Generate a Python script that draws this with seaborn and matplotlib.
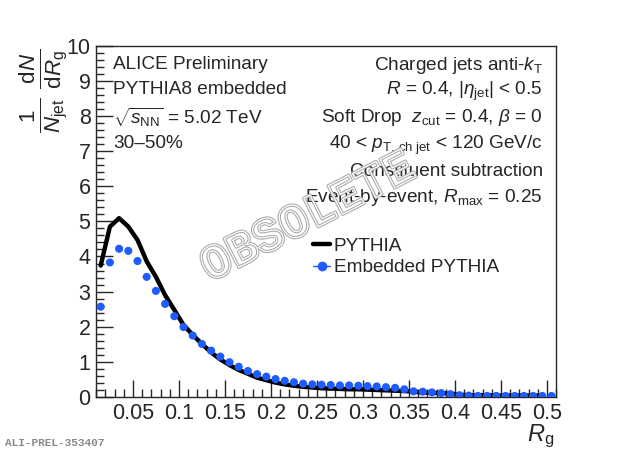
import numpy as np
import pandas as pd
import matplotlib
matplotlib.use("Agg")
import matplotlib.pyplot as plt
import matplotlib.patheffects as pe
from matplotlib.ticker import MultipleLocator, FormatStrFormatter
import seaborn as sns

# R_g bin centres
rg_bins = [0.015, 0.025, 0.035, 0.045, 0.055, 0.065, 0.075, 0.085, 0.095, 0.105,
           0.115, 0.125, 0.135, 0.145, 0.155, 0.165, 0.175, 0.185, 0.195, 0.205,
           0.215, 0.225, 0.235, 0.245, 0.255, 0.265, 0.275, 0.285, 0.295, 0.305,
           0.315, 0.325, 0.335, 0.345, 0.355, 0.365, 0.375, 0.385, 0.395, 0.405,
           0.415, 0.425, 0.435, 0.445, 0.455, 0.465, 0.475, 0.485, 0.495, 0.505]

# PYTHIA (line) - no last bin
pythia = [3.74, 4.85, 5.09, 4.85, 4.47, 3.86, 3.42, 2.90, 2.48, 2.05,
          1.77, 1.51, 1.27, 1.07, 0.91, 0.77, 0.66, 0.55, 0.48, 0.41,
          0.36, 0.32, 0.29, 0.27, 0.25, 0.24, 0.23, 0.22, 0.22, 0.21,
          0.20, 0.19, 0.18, 0.17, 0.15, 0.13, 0.12, 0.11, 0.10, 0.06,
          0.05, 0.05, 0.05, 0.04, 0.04, 0.04, 0.04, 0.04, 0.04]

# Embedded PYTHIA (markers)
embedded = [2.57, 3.83, 4.22, 4.16, 3.87, 3.42, 3.02, 2.65, 2.30, 1.99,
            1.75, 1.51, 1.32, 1.15, 0.99, 0.86, 0.74, 0.65, 0.58, 0.51,
            0.46, 0.42, 0.38, 0.36, 0.35, 0.34, 0.33, 0.33, 0.32, 0.31,
            0.30, 0.28, 0.26, 0.22, 0.16, 0.15, 0.13, 0.11, 0.08, 0.05,
            0.04, 0.03, 0.03, 0.03, 0.03, 0.03, 0.03, 0.03, 0.03, 0.03]

sns.set_style("ticks")
plt.rcParams['font.family'] = ['Liberation Sans', 'DejaVu Sans']
plt.rcParams['mathtext.fontset'] = 'custom'
plt.rcParams['mathtext.rm'] = 'Liberation Sans'
plt.rcParams['mathtext.it'] = 'Liberation Sans:italic'
plt.rcParams['mathtext.bf'] = 'Liberation Sans:bold'

df_py = pd.DataFrame({'rg': rg_bins[:len(pythia)], 'val': pythia})
df_emb = pd.DataFrame({'rg': rg_bins, 'val': embedded})

fig = plt.figure(figsize=(6.2, 4.55), dpi=100)
ax = fig.add_axes([0.155, 0.1275, 0.742, 0.772])

blue = '#1f5cff'
sns.lineplot(data=df_py, x='rg', y='val', ax=ax, color='black', lw=3.2, label='PYTHIA')
sns.scatterplot(data=df_emb, x='rg', y='val', ax=ax, color=blue, s=34,
                edgecolor='none', zorder=3)
ax.plot([], [], color=blue, marker='o', ms=6, lw=1, label='Embedded PYTHIA')

ax.set_xlim(0.01, 0.51)
ax.set_ylim(0, 10)
ax.xaxis.set_major_locator(MultipleLocator(0.05))
ax.xaxis.set_minor_locator(MultipleLocator(0.01))
ax.yaxis.set_major_locator(MultipleLocator(1))
ax.yaxis.set_minor_locator(MultipleLocator(0.2))
ax.xaxis.set_major_formatter(FormatStrFormatter('%g'))
ax.tick_params(which='both', direction='in', top=False, right=False, labelsize=15.5, width=1)
ax.tick_params(which='major', length=12, pad=4)
ax.tick_params(which='minor', length=6)
for sp in ax.spines.values():
    sp.set_linewidth(1)
ax.set_xlabel('')
ax.set_ylabel('')

fig.text(0.872, 0.04, r'$R_{\rm g}$', fontsize=17, ha='center', va='center')
fig.text(0.07, 0.80, r'$\frac{1}{N_{\rm jet}}\;\frac{{\rm d}N}{{\rm d}R_{\rm g}}$',
         fontsize=23, rotation=90, ha='center', va='center')

left_lines = ['ALICE Preliminary', 'PYTHIA8 embedded',
              r'$\sqrt{s_{\rm NN}}$ = 5.02 TeV', '30\u201350%']
left_y = [65, 90, 117, 143]
for t, y in zip(left_lines, left_y):
    fig.text(113 / 620, 1 - y / 455, t, fontsize=13.7, ha='left', va='center')

right_lines = [r'Charged jets anti-$k_{\rm T}$',
               r'$R$ = 0.4, $|\eta_{\rm jet}|$ < 0.5',
               r'Soft Drop  $z_{\rm cut}$ = 0.4, $\beta$ = 0',
               r'40 < $p_{\rm T,\,ch\;jet}$ < 120 GeV/c',
               'Constituent subtraction',
               r'Event-by-event, $R_{\rm max}$ = 0.25']
right_y = [66, 91, 117, 145, 172, 198]
for t, y in zip(right_lines, right_y):
    fig.text(543 / 620, 1 - y / 455, t, fontsize=13.7, ha='right', va='center')

ax.legend(loc='upper left', bbox_to_anchor=(0.455, 0.475), frameon=False, fontsize=13.7,
          handlelength=0.9, handletextpad=0.2, labelspacing=0.2, borderaxespad=0)

# hollow watermark: outline only, text behind stays visible
fig.text(308 / 620, 1 - 218 / 455, 'OBSOLETE', fontsize=35, rotation=27,
         ha='center', va='center', color='none', fontweight='bold',
         family='Liberation Mono', zorder=10,
         path_effects=[pe.Stroke(linewidth=2.4, foreground='#a8a8a8'),
                       pe.Stroke(linewidth=0.9, foreground='white')])

fig.text(5 / 620, 1 - 443 / 455, 'ALI-PREL-353407', fontsize=8, color='#888888',
         family='Liberation Mono', fontweight='bold', ha='left', va='center')

fig.savefig('out.png', dpi=100)
